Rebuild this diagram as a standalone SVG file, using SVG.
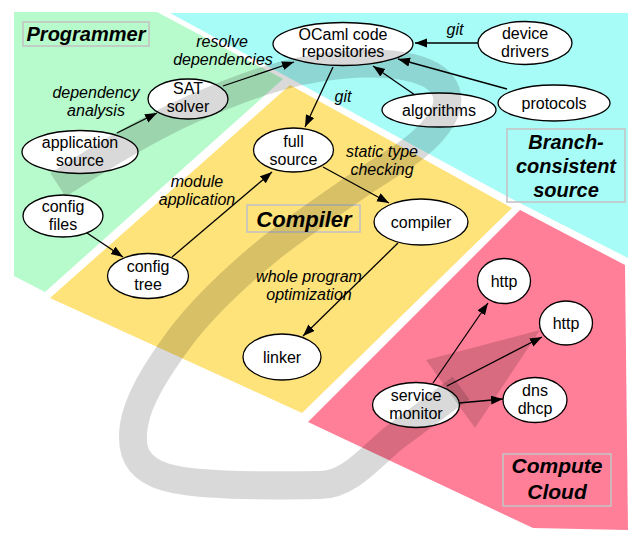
<svg xmlns="http://www.w3.org/2000/svg" width="642" height="545" viewBox="0 0 642 545">
  <style>
    .node ellipse { fill: #fff; stroke: #000; stroke-width: 1.3; }
    .node text { font-family: "Liberation Sans", Arial, sans-serif; font-size: 16px; text-anchor: middle; fill: #000; }
    .edge { stroke: #000; stroke-width: 1.3; fill: none; marker-end: url(#head); }
    .lbl { font-family: "Liberation Sans", Arial, sans-serif; font-size: 16px; font-style: italic; text-anchor: middle; fill: #000; }
    .title { font-family: "Liberation Sans", Arial, sans-serif; font-weight: bold; font-style: italic; text-anchor: middle; fill: #000; }
    .tbox { fill: none; stroke: #c4c4c4; stroke-width: 1.6; }
    .flow { fill: none; stroke: #000; stroke-opacity: 0.15; stroke-width: 28; stroke-linecap: butt; stroke-linejoin: round; }
    .flowhead { fill: #000; fill-opacity: 0.15; }
  </style>
  <defs>
    <marker id="head" markerUnits="userSpaceOnUse" markerWidth="13" markerHeight="10" refX="12" refY="4.5" orient="auto">
      <path d="M0,0 L12,4.5 L0,9 z" fill="#000"/>
    </marker>
  </defs>

  <rect width="642" height="545" fill="#fff"/>

  <!-- coloured areas -->
  <g id="areas">
    <polygon points="14,12 157,12 283,79 45,292 14,276" fill="#b7facc"/>
    <polygon points="170,13 628,13 628,258 512,199" fill="#a7fcf8"/>
    <polygon points="290,85 512,208 302,413 50,298" fill="#fee27a"/>
    <polygon points="520,210 625,265 628,530 533,528 308,422" fill="#ff7e98"/>
  </g>

  <!-- area titles -->
  <g id="title-programmer">
    <rect class="tbox" x="23" y="22" width="126" height="24"/>
    <text class="title" x="86" y="41" font-size="20">Programmer</text>
  </g>
  <g id="title-compiler">
    <rect class="tbox" x="247" y="205" width="113" height="27"/>
    <text class="title" x="304" y="227" font-size="22">Compiler</text>
  </g>
  <g id="title-source">
    <rect class="tbox" x="507" y="129" width="118" height="73"/>
    <text class="title" x="566" y="149" font-size="20">Branch-</text>
    <text class="title" x="566" y="173" font-size="20">consistent</text>
    <text class="title" x="566" y="197" font-size="20">source</text>
  </g>
  <g id="title-cloud">
    <rect class="tbox" x="503" y="454" width="108" height="52"/>
    <text class="title" x="557" y="473" font-size="21">Compute</text>
    <text class="title" x="557" y="499" font-size="21">Cloud</text>
  </g>

  <!-- connectors -->
  <g id="connectors">
    <line class="edge" x1="117" y1="133" x2="157" y2="113"/>
    <line class="edge" x1="223" y1="86" x2="294" y2="62"/>
    <line class="edge" x1="333" y1="67" x2="305" y2="127"/>
    <line class="edge" x1="478" y1="43" x2="415" y2="43"/>
    <line class="edge" x1="415" y1="95" x2="373" y2="66"/>
    <line class="edge" x1="507" y1="89" x2="398" y2="59"/>
    <line class="edge" x1="323" y1="167" x2="389" y2="203"/>
    <line class="edge" x1="87" y1="233" x2="123" y2="257"/>
    <line class="edge" x1="172" y1="257" x2="272" y2="172"/>
    <line class="edge" x1="398" y1="243" x2="303" y2="336"/>
    <line class="edge" x1="433" y1="383" x2="488" y2="303"/>
    <line class="edge" x1="447" y1="386" x2="542" y2="337"/>
    <line class="edge" x1="459" y1="403" x2="503" y2="399"/>

    <text class="lbl" x="222" y="47">resolve</text>
    <text class="lbl" x="223" y="65">dependencies</text>
    <text class="lbl" x="96" y="98">dependency</text>
    <text class="lbl" x="96" y="116">analysis</text>
    <text class="lbl" x="343" y="102">git</text>
    <text class="lbl" x="455" y="35">git</text>
    <text class="lbl" x="382" y="157">static type</text>
    <text class="lbl" x="382" y="175">checking</text>
    <text class="lbl" x="197" y="187">module</text>
    <text class="lbl" x="197" y="205">application</text>
    <text class="lbl" x="309" y="282">whole program</text>
    <text class="lbl" x="309" y="300">optimization</text>
  </g>

  <!-- nodes -->
  <g id="application-source" class="node">
    <ellipse cx="80" cy="152" rx="58" ry="21.5"/>
    <text x="80" y="148">application</text>
    <text x="80" y="166">source</text>
  </g>
  <g id="sat-solver" class="node">
    <ellipse cx="188" cy="99" rx="40" ry="20"/>
    <text x="188" y="94">SAT</text>
    <text x="188" y="112">solver</text>
  </g>
  <g id="config-files" class="node">
    <ellipse cx="63" cy="216" rx="40" ry="21"/>
    <text x="63" y="212">config</text>
    <text x="63" y="230">files</text>
  </g>
  <g id="config-tree" class="node">
    <ellipse cx="148" cy="276" rx="40.5" ry="22.5"/>
    <text x="148" y="272">config</text>
    <text x="148" y="290">tree</text>
  </g>
  <g id="full-source" class="node">
    <ellipse cx="293.5" cy="150" rx="40" ry="22"/>
    <text x="293.5" y="147">full</text>
    <text x="293.5" y="165">source</text>
  </g>
  <g id="ocaml-repositories" class="node">
    <ellipse cx="343" cy="44" rx="70" ry="21.5"/>
    <text x="343" y="40">OCaml code</text>
    <text x="343" y="57">repositories</text>
  </g>
  <g id="device-drivers" class="node">
    <ellipse cx="525" cy="43" rx="47" ry="21.5"/>
    <text x="525" y="39">device</text>
    <text x="525" y="57">drivers</text>
  </g>
  <g id="algorithms" class="node">
    <ellipse cx="439" cy="110" rx="57" ry="17"/>
    <text x="439" y="116">algorithms</text>
  </g>
  <g id="protocols" class="node">
    <ellipse cx="554" cy="103" rx="56" ry="18"/>
    <text x="554" y="109">protocols</text>
  </g>
  <g id="compiler" class="node">
    <ellipse cx="421" cy="222" rx="47" ry="23"/>
    <text x="421" y="228">compiler</text>
  </g>
  <g id="linker" class="node">
    <ellipse cx="282" cy="357" rx="39" ry="23"/>
    <text x="282" y="363">linker</text>
  </g>
  <g id="http-1" class="node">
    <ellipse cx="504" cy="281" rx="26.5" ry="22.5"/>
    <text x="504" y="287">http</text>
  </g>
  <g id="http-2" class="node">
    <ellipse cx="566" cy="323" rx="26.5" ry="22"/>
    <text x="566" y="329">http</text>
  </g>
  <g id="dns-dhcp" class="node">
    <ellipse cx="535" cy="400" rx="32" ry="22.5"/>
    <text x="535" y="396">dns</text>
    <text x="535" y="414">dhcp</text>
  </g>
  <g id="service-monitor" class="node">
    <ellipse cx="416" cy="405" rx="43.5" ry="22.5"/>
    <text x="416" y="401">service</text>
    <text x="416" y="419">monitor</text>
  </g>

  <!-- translucent flow band looping from the programmer to the cloud -->
  <g id="flow">
    <path class="flow" d="M58,185 C100,158 145,130 190,110 C235,90 285,70 340,65 C395,60 438,68 446,92 C453,112 432,136 405,155 L363,182 C330,205 300,225 272,247 C240,273 205,305 180,338 C155,372 138,400 134,425 C130,450 136,468 165,477 C195,486 260,486 320,485 C350,485 372,455 395,437 L461,388"/>
    <polygon class="flowhead" points="426,360 540,330 475,428"/>
  </g>
</svg>
